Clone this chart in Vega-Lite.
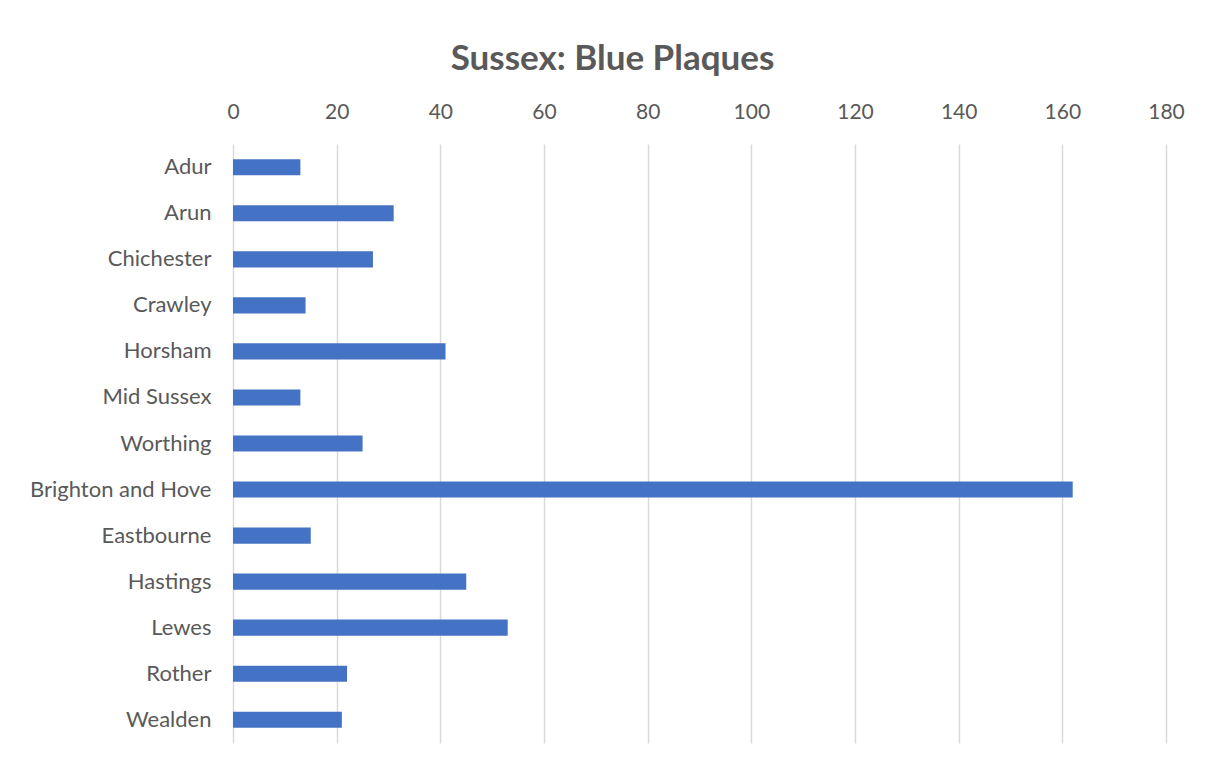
{
  "$schema": "https://vega.github.io/schema/vega-lite/v6.json",
  "autosize": {"type": "none"},
  "width": 933,
  "height": 599,
  "padding": {"left": 233, "top": 144, "right": 43, "bottom": 19},
  "background": "white",
  "title": {
    "text": "Sussex: Blue Plaques",
    "font": "Lato",
    "fontSize": 35,
    "fontWeight": "bold",
    "color": "#595959",
    "anchor": "middle",
    "dx": -87,
    "offset": 24
  },
  "data": {
    "values": [
      {"district": "Adur", "plaques": 13},
      {"district": "Arun", "plaques": 31},
      {"district": "Chichester", "plaques": 27},
      {"district": "Crawley", "plaques": 14},
      {"district": "Horsham", "plaques": 41},
      {"district": "Mid Sussex", "plaques": 13},
      {"district": "Worthing", "plaques": 25},
      {"district": "Brighton and Hove", "plaques": 162},
      {"district": "Eastbourne", "plaques": 15},
      {"district": "Hastings", "plaques": 45},
      {"district": "Lewes", "plaques": 53},
      {"district": "Rother", "plaques": 22},
      {"district": "Wealden", "plaques": 21}
    ]
  },
  "mark": {"type": "bar", "color": "#4472C4"},
  "encoding": {
    "y": {
      "field": "district",
      "type": "nominal",
      "sort": null,
      "scale": {"paddingInner": 0.65, "paddingOuter": 0.33},
      "axis": {
        "title": null,
        "ticks": false,
        "domain": false,
        "labelPadding": 22,
        "labelLimit": 400,
        "labelFont": "Lato",
        "labelFontSize": 22,
        "labelColor": "#595959"
      }
    },
    "x": {
      "field": "plaques",
      "type": "quantitative",
      "scale": {"domain": [0, 180], "nice": false},
      "axis": {
        "orient": "top",
        "title": null,
        "values": [0, 20, 40, 60, 80, 100, 120, 140, 160, 180],
        "ticks": false,
        "domain": false,
        "grid": true,
        "gridColor": "#D9D9D9",
        "gridWidth": 1.5,
        "labelFlush": false,
        "labelPadding": 22,
        "labelFont": "Lato",
        "labelFontSize": 21,
        "labelColor": "#595959"
      }
    }
  },
  "config": {"view": {"stroke": null}}
}
